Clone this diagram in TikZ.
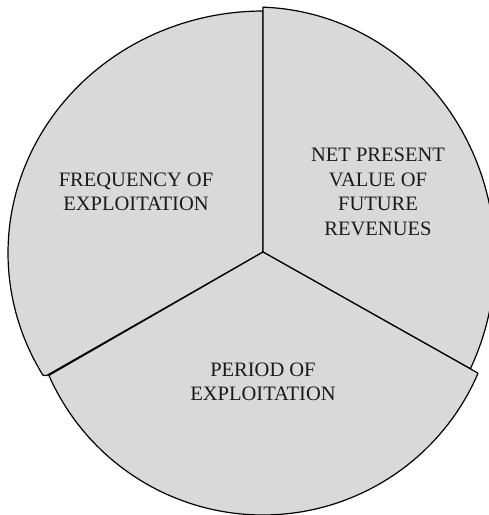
\documentclass[tikz,border=0pt]{standalone}
\usepackage{fontspec}
\setmainfont{Liberation Serif}
\definecolor{sectorgray}{HTML}{D9D9D9}
\definecolor{textgray}{HTML}{1A1A1A}
\begin{document}
\begin{tikzpicture}[x=1pt,y=-1pt,
  sector/.style={fill=sectorgray, draw=black, line width=1.2pt, line join=miter},
  lbl/.style={align=center, inner sep=0pt, text=textgray,
    font=\fontsize{20.5}{24.6}\selectfont}]
\path[use as bounding box] (0,0) rectangle (489,515);
\clip (0,0) rectangle (489,515);
\coordinate (hub) at (263,252);
\coordinate (lc) at (48.9,375.4);
\coordinate (rc) at (478.1,373.2);
\coordinate (rci) at (471,369.1);
% left sector
\path[sector] (hub) -- plot[domain=90:210.3, samples=90]
  ({263+255*cos(\x)},{253-242*sin(\x)}) -- (46.5,375.6) -- cycle;
% right sector
\path[sector] (hub) -- plot[domain=88.1:-26, samples=90]
  ({255+240*cos(\x)},{258-251*sin(\x)}) -- (rci) -- cycle;
% bottom sector
\path[sector] (hub) -- (lc) -- plot[domain=203.8:336.8, samples=90]
  ({263+234*cos(\x)},{281-234*sin(\x)}) -- (rc) -- cycle;
% labels
\node[lbl] (freq) at (136,192) {FREQUENCY OF\\EXPLOITATION};
\node[lbl] (npv) at (378,192) {NET PRESENT\\VALUE OF\\FUTURE\\REVENUES};
\node[lbl] (period) at (263,382) {PERIOD OF\\EXPLOITATION};
\end{tikzpicture}
\end{document}
